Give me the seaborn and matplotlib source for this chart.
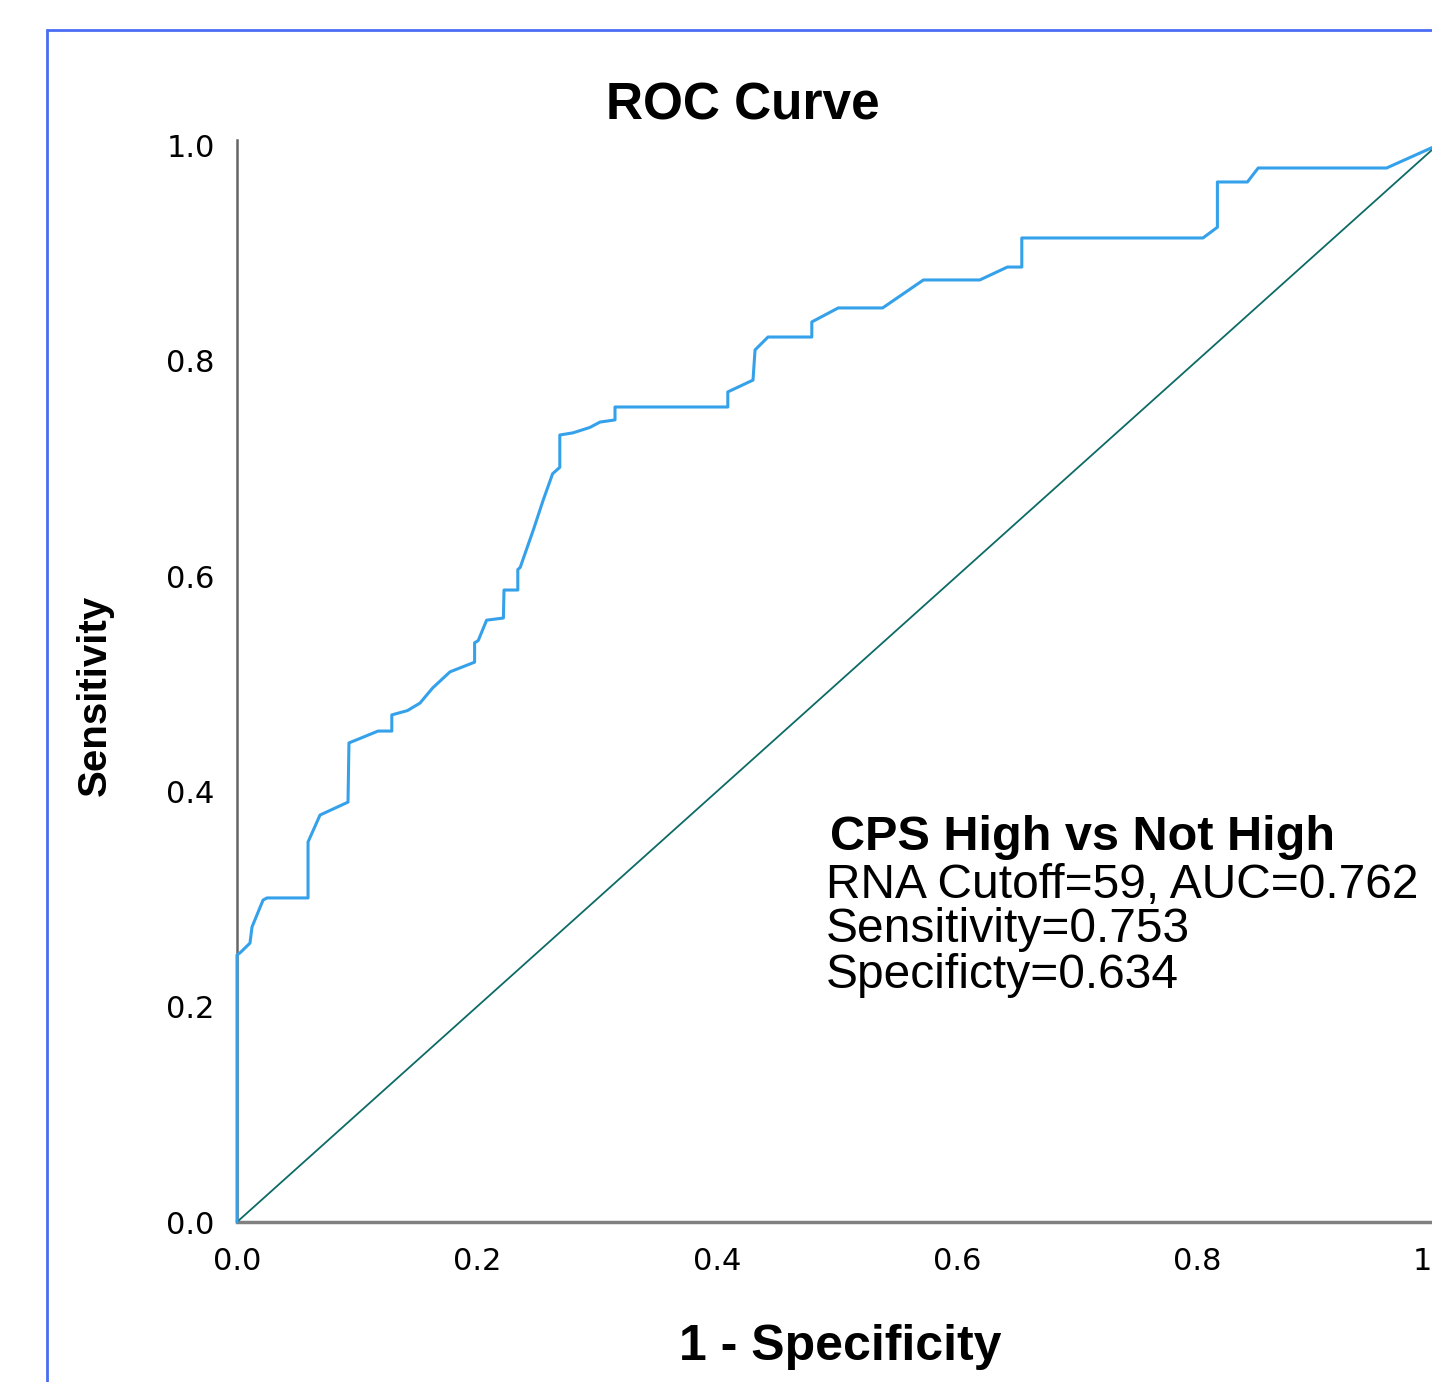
import matplotlib
matplotlib.use("Agg")
import matplotlib.pyplot as plt
from matplotlib.patches import Rectangle
import seaborn as sns
import pandas as pd

# ROC curve points (1 - specificity, sensitivity)
fpr = [0.0, 0.0, 0.0025, 0.0108, 0.0125, 0.0217, 0.025, 0.0592, 0.0592, 0.0608,
       0.0692, 0.075, 0.0925, 0.0933, 0.100, 0.1175, 0.129, 0.129, 0.142, 0.1525,
       0.163, 0.1775, 0.198, 0.198, 0.201, 0.208, 0.222, 0.2225, 0.234, 0.234,
       0.236, 0.247, 0.255, 0.263, 0.269, 0.269, 0.280, 0.294, 0.3025, 0.315,
       0.315, 0.409, 0.409, 0.430, 0.4317, 0.4425, 0.479, 0.479, 0.501, 0.538,
       0.572, 0.619, 0.642, 0.654, 0.654, 0.805, 0.817, 0.817, 0.842, 0.851,
       0.958, 1.0]
tpr = [0.0, 0.248, 0.250, 0.259, 0.274, 0.299, 0.301, 0.301, 0.353, 0.357,
       0.378, 0.381, 0.390, 0.445, 0.448, 0.456, 0.456, 0.471, 0.475, 0.482,
       0.496, 0.511, 0.520, 0.538, 0.540, 0.559, 0.561, 0.587, 0.587, 0.606,
       0.608, 0.643, 0.670, 0.695, 0.701, 0.731, 0.733, 0.738, 0.743, 0.745,
       0.757, 0.757, 0.771, 0.782, 0.810, 0.822, 0.822, 0.836, 0.849, 0.849,
       0.875, 0.875, 0.887, 0.887, 0.914, 0.914, 0.924, 0.966, 0.966, 0.979,
       0.979, 1.0]
ref_x = [0.0, 1.0]
ref_y = [0.0, 1.0]
tick_vals = [0.0, 0.2, 0.4, 0.6, 0.8, 1.0]
tick_labels = ["0.0", "0.2", "0.4", "0.6", "0.8", "1.0"]

title = "ROC Curve"
xlabel = "1 - Specificity"
ylabel = "Sensitivity"
ann_title = "CPS High vs Not High"
ann_lines = ["RNA Cutoff=59, AUC=0.762", "Sensitivity=0.753", "Specificty=0.634"]

sns.set_style("white")
plt.rcParams["font.family"] = ["Liberation Sans", "DejaVu Sans"]
plt.rcParams["text.color"] = "black"

W, H = 1432, 1382
fig = plt.figure(figsize=(W / 100, H / 100), dpi=100)
ax = fig.add_axes([237 / W, (H - 1222) / H, 1200 / W, 1082 / H])

df = pd.DataFrame({"fpr": fpr, "tpr": tpr})
dref = pd.DataFrame({"x": ref_x, "y": ref_y})
sns.lineplot(data=dref, x="x", y="y", ax=ax, color="#0d6b66", lw=1.3,
             sort=False, estimator=None, zorder=3)
sns.lineplot(data=df, x="fpr", y="tpr", ax=ax, color="#35a1ea", lw=2.2,
             sort=False, estimator=None, zorder=4, clip_on=False)

ax.set_xlim(0, 1)
ax.set_ylim(0, 1.005)
ax.set_xticks(tick_vals)
ax.set_xticklabels(tick_labels)
ax.set_yticks(tick_vals)
ax.set_yticklabels(tick_labels)
ax.tick_params(axis="both", length=0, labelsize=22, colors="black")
ax.tick_params(axis="x", pad=18)
ax.tick_params(axis="y", pad=16)
for lab in ax.get_xticklabels() + ax.get_yticklabels():
    lab.set_family(["DejaVu Sans"])
ax.set_xlabel("")
ax.set_ylabel("")
for s in ["top", "right"]:
    ax.spines[s].set_visible(False)
ax.spines["left"].set_color("#666666")
ax.spines["left"].set_linewidth(1.8)
ax.spines["bottom"].set_color("#808080")
ax.spines["bottom"].set_linewidth(2.5)

fig.text(743 / W, 1 - 106 / H, title, ha="center", va="center",
         fontsize=37, fontweight="bold")
fig.text(840 / W, 1 - 1347 / H, xlabel, ha="center", va="center",
         fontsize=36, fontweight="bold")
fig.text(95 / W, 1 - 695 / H, ylabel, ha="center", va="center",
         fontsize=29, fontweight="bold", rotation=90)

fig.text(830 / W, 1 - 838 / H, ann_title, ha="left", va="center",
         fontsize=35, fontweight="bold")
for i, line in enumerate(ann_lines):
    fig.text(826 / W, 1 - (885 + 45 * i) / H, line, ha="left", va="center",
             fontsize=34.5)

fig.patches.append(Rectangle((47 / W, -0.2), 1.5, 1.2 - 30 / H,
                             transform=fig.transFigure, fill=False,
                             edgecolor="#4a6cf5", lw=2))

fig.savefig("out.png", dpi=100)
